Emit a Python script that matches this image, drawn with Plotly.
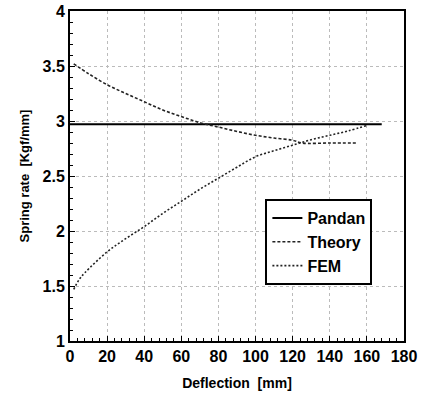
import plotly.graph_objects as go

pandan_x = [0, 168]
pandan_y = [2.97, 2.97]

theory_x = [2, 10, 20, 30, 40, 50, 60, 70, 80, 90, 100, 110, 120, 125, 140, 155]
theory_y = [3.52, 3.43, 3.33, 3.25, 3.175, 3.10, 3.04, 2.985, 2.945, 2.905, 2.87, 2.845, 2.825, 2.80, 2.80, 2.80]

fem_x = [2, 5, 8, 20, 30, 40, 50, 60, 70, 80, 90, 100, 110, 120, 130, 140, 150, 160]
fem_y = [1.47, 1.56, 1.62, 1.81, 1.93, 2.04, 2.16, 2.27, 2.38, 2.48, 2.58, 2.675, 2.73, 2.78, 2.83, 2.87, 2.91, 2.96]

x_ticks = [0, 20, 40, 60, 80, 100, 120, 140, 160, 180]
y_ticks = [1, 1.5, 2, 2.5, 3, 3.5, 4]
y_tick_text = ["1", "1.5", "2", "2.5", "3", "3.5", "4"]

font_family = "Liberation Sans, Arial, sans-serif"

fig = go.Figure()
fig.add_trace(go.Scatter(x=pandan_x, y=pandan_y, mode="lines", name="Pandan",
                         line=dict(color="black", width=2)))
fig.add_trace(go.Scatter(x=theory_x, y=theory_y, mode="lines", name="Theory",
                         line=dict(color="#222", width=1.6, dash="3px,2px"), line_shape="spline"))
fig.add_trace(go.Scatter(x=fem_x, y=fem_y, mode="lines", name="FEM",
                         line=dict(color="#222", width=1.6, dash="2px,2px"), line_shape="spline"))

fig.update_layout(
    width=433, height=401,
    margin=dict(l=70, r=29, t=11, b=60, autoexpand=False),
    paper_bgcolor="white", plot_bgcolor="white",
    font=dict(family=font_family, color="black"),
    showlegend=True,
    legend=dict(x=0.585, y=0.43, xanchor="left", yanchor="top",
                bordercolor="black", borderwidth=2, bgcolor="white",
                font=dict(size=16, family=font_family, weight="bold"),
                itemwidth=30, tracegroupgap=0),
)
fig.update_xaxes(
    range=[0, 180], tickvals=x_ticks, ticktext=[str(v) for v in x_ticks],
    automargin=False,
    showline=True, linecolor="black", linewidth=2, mirror=True,
    ticks="inside", ticklen=5, tickcolor="black",
    minor=dict(dtick=4, ticks="inside", ticklen=3, tickcolor="black", showgrid=False),
    showgrid=True, gridcolor="#bbb", griddash="dot", gridwidth=1,
    tickfont=dict(size=16, family=font_family, weight="bold"),
    title=dict(text="Deflection  [mm]", font=dict(size=14, family=font_family, weight="bold"), standoff=14),
    zeroline=False,
)
fig.update_yaxes(
    range=[1, 4], tickvals=y_ticks, ticktext=y_tick_text,
    automargin=False,
    showline=True, linecolor="black", linewidth=2, mirror=True,
    ticks="inside", ticklen=5, tickcolor="black",
    minor=dict(dtick=0.1, ticks="inside", ticklen=3, tickcolor="black", showgrid=False),
    showgrid=True, gridcolor="#bbb", griddash="dot", gridwidth=1,
    tickfont=dict(size=16, family=font_family, weight="bold"),
    title=dict(text="Spring rate  [Kgf/mm]", font=dict(size=13, family=font_family, weight="bold"), standoff=10),
    zeroline=False,
)

fig.write_html("out.html", config={"displayModeBar": False},
               post_script="document.body.style.margin='0px';document.body.style.overflow='hidden';")
